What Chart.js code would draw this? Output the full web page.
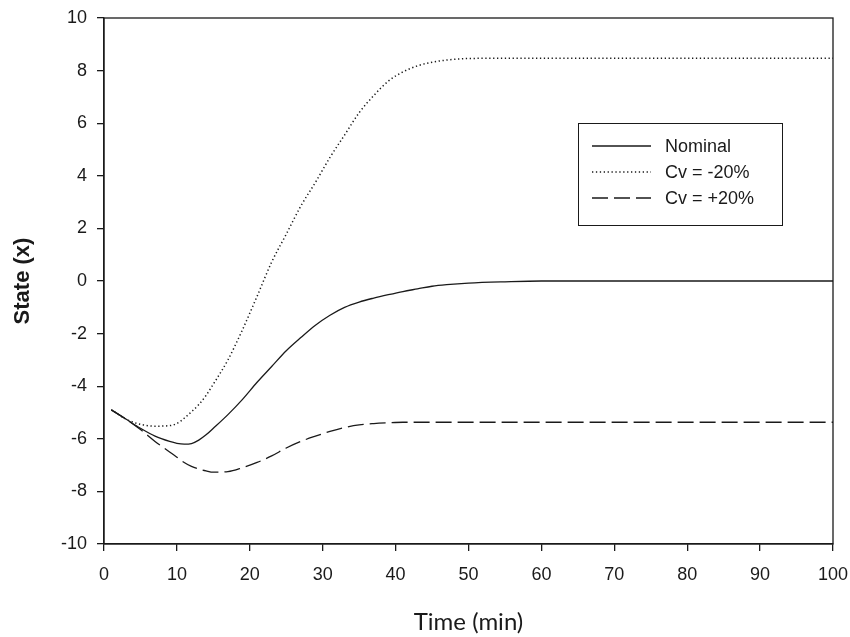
<!DOCTYPE html>
<html>
<head>
<meta charset="utf-8">
<script src="https://cdn.jsdelivr.net/npm/chart.js@4/dist/chart.umd.min.js"></script>
<style>
  html, body { margin: 0; padding: 0; background: #fff; }
  #wrap { width: 850px; height: 637px; }
</style>
</head>
<body>
<div id="wrap"><canvas id="chart" width="850" height="637"></canvas></div>
<script>
// time samples (min)
const times = [1, 3, 5, 7, 9, 10, 11, 12, 13, 14, 15, 17, 19, 21, 23, 25, 27, 29, 31, 33, 35, 37, 39, 41, 43, 45, 47, 50, 55, 60, 70, 80, 90, 100];

// state values per series
const nominal = [-4.9, -5.25, -5.6, -5.9, -6.1, -6.17, -6.2, -6.18, -6.05, -5.85, -5.6, -5.08, -4.5, -3.85, -3.25, -2.65, -2.15, -1.68, -1.3, -1.0, -0.8, -0.65, -0.52, -0.4, -0.3, -0.2, -0.14, -0.08, -0.03, 0, 0, 0, 0, 0];
const cvMinus = [-4.9, -5.25, -5.45, -5.52, -5.5, -5.42, -5.22, -4.97, -4.7, -4.35, -3.92, -3.0, -1.85, -0.58, 0.72, 1.78, 2.85, 3.75, 4.7, 5.55, 6.4, 7.05, 7.6, 7.95, 8.18, 8.32, 8.4, 8.46, 8.47, 8.47, 8.47, 8.47, 8.47, 8.47];
const cvPlus = [-4.9, -5.25, -5.65, -6.1, -6.5, -6.7, -6.9, -7.05, -7.15, -7.22, -7.27, -7.25, -7.1, -6.9, -6.65, -6.35, -6.1, -5.9, -5.72, -5.57, -5.47, -5.42, -5.39, -5.37, -5.37, -5.37, -5.37, -5.37, -5.37, -5.37, -5.37, -5.37, -5.37, -5.37];

const xTicks = [0, 10, 20, 30, 40, 50, 60, 70, 80, 90, 100];
const yTicks = [-10, -8, -6, -4, -2, 0, 2, 4, 6, 8, 10];

const ink = '#1a1a1a';

function toPoints(values) {
  return times.map((t, i) => ({ x: t, y: values[i] }));
}

// box around the plot plus the legend inside it
const framePlugin = {
  id: 'frame',
  afterDraw(chart) {
    const { ctx, chartArea: a } = chart;
    ctx.save();
    ctx.strokeStyle = ink;
    ctx.lineWidth = 1.3;
    ctx.strokeRect(a.left, a.top, a.right - a.left, a.bottom - a.top);

    // legend
    ctx.lineWidth = 1;
    ctx.strokeRect(578.5, 123.5, 204, 102);
    const rows = [146, 172, 198];
    chart.data.datasets.forEach((ds, i) => {
      const y = rows[i];
      ctx.beginPath();
      ctx.setLineDash(ds.borderDash || []);
      ctx.lineWidth = ds.borderWidth;
      ctx.moveTo(592, y);
      ctx.lineTo(651, y);
      ctx.stroke();
      ctx.setLineDash([]);
      ctx.fillStyle = ink;
      ctx.font = '18px "Liberation Sans", Arial, sans-serif';
      ctx.textBaseline = 'middle';
      ctx.fillText(ds.label, 665, y + 1);
    });
    ctx.restore();
  }
};

const tickFont = { family: '"Liberation Sans", Arial, sans-serif', size: 18 };

new Chart(document.getElementById('chart'), {
  type: 'line',
  data: {
    datasets: [
      { label: 'Nominal', data: toPoints(nominal), borderColor: ink, borderWidth: 1.3, pointRadius: 0, cubicInterpolationMode: 'monotone' },
      { label: 'Cv = -20%', data: toPoints(cvMinus), borderColor: ink, borderWidth: 1.5, borderDash: [1.3, 2.6], pointRadius: 0, cubicInterpolationMode: 'monotone' },
      { label: 'Cv = +20%', data: toPoints(cvPlus), borderColor: ink, borderWidth: 1.3, borderDash: [16, 6], pointRadius: 0, cubicInterpolationMode: 'monotone' }
    ]
  },
  options: {
    responsive: false,
    animation: false,
    layout: { padding: { top: 18, right: 17, left: 0, bottom: 0 } },
    plugins: { legend: { display: false }, tooltip: { enabled: false } },
    scales: {
      x: {
        type: 'linear',
        min: 0,
        max: 100,
        afterFit(scale) {
          scale.height = 93;
          scale.paddingLeft = 0;
          scale.paddingRight = 0;
        },
        afterBuildTicks(scale) { scale.ticks = xTicks.map(v => ({ value: v })); },
        grid: { drawOnChartArea: false, tickLength: 7, color: ink, lineWidth: 1.3 },
        border: { color: ink, width: 1.3 },
        ticks: { color: ink, font: tickFont, padding: 13, maxRotation: 0 },
        title: {
          display: true,
          text: 'Time (min)',
          color: ink,
          font: { family: 'Lato, "Open Sans", sans-serif', size: 24 },
          padding: { top: 0, bottom: 0 }
        }
      },
      y: {
        min: -10,
        max: 10,
        afterFit(scale) {
          scale.width = 104;
          scale.paddingTop = 0;
          scale.paddingBottom = 0;
        },
        afterBuildTicks(scale) { scale.ticks = yTicks.map(v => ({ value: v })); },
        grid: { drawOnChartArea: false, tickLength: 7, color: ink, lineWidth: 1.3 },
        border: { color: ink, width: 1.3 },
        ticks: { color: ink, font: tickFont, padding: 10 },
        title: {
          display: true,
          text: 'State (x)',
          color: ink,
          font: { family: '"Liberation Sans", Arial, sans-serif', size: 22, weight: 'bold' },
          padding: { top: 10, bottom: 0 }
        }
      }
    }
  },
  plugins: [framePlugin]
});
</script>
</body>
</html>
